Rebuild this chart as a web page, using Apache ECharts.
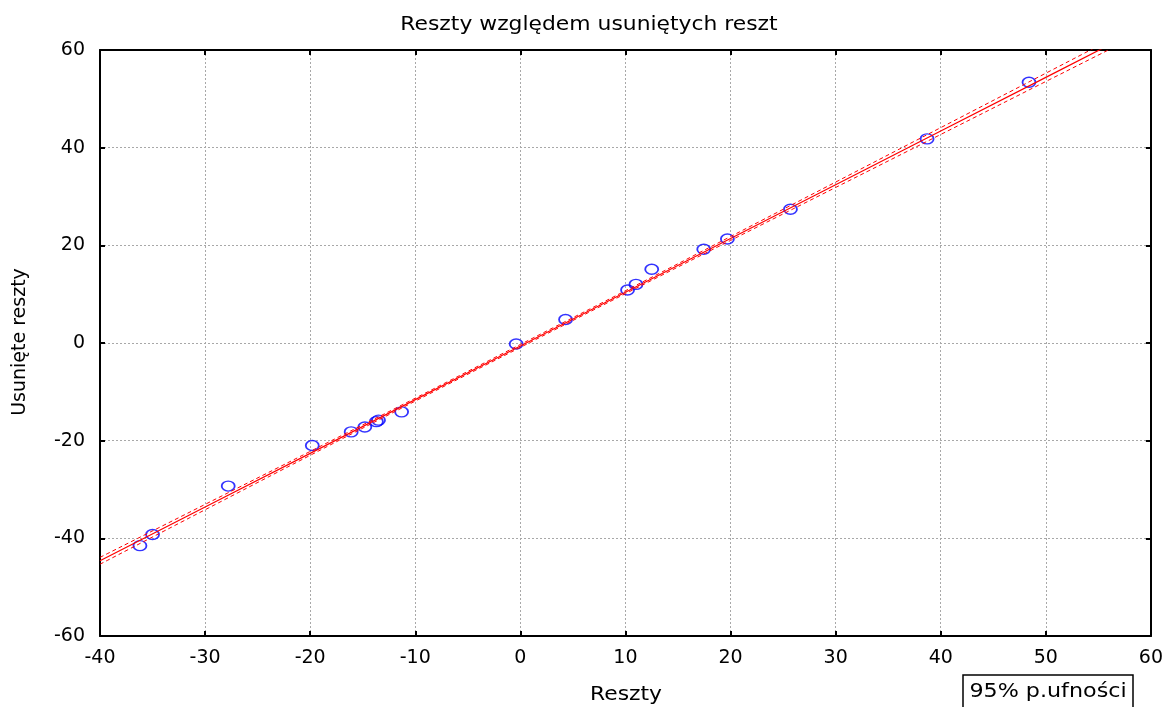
<!DOCTYPE html>
<html>
<head>
<meta charset="utf-8">
<script src="https://cdn.jsdelivr.net/npm/echarts@6/dist/echarts.min.js"></script>
<style>
html,body{margin:0;padding:0;background:#fff;}
#chart{width:1166px;height:707px;}
</style>
</head>
<body>
<div id="chart"></div>
<script>
// Residuals (x) vs deleted residuals (y)
var residuals = [-36.2, -35.0, -27.8, -19.8, -16.1, -14.8, -13.7, -13.5, -11.3, -0.4, 4.3, 10.2, 11.0, 12.5, 17.45, 19.7, 25.7, 38.7, 48.4];
var deletedResiduals = [-41.5, -39.2, -29.3, -21.0, -18.2, -17.2, -16.1, -15.8, -14.1, -0.2, 4.8, 10.85, 12.0, 15.1, 19.2, 21.3, 27.4, 41.8, 53.4];

// Fitted line and 95% confidence band
var bandX = [-40, -30, -20, -10, 0, 10, 20, 30, 40, 50, 56];
var fitY = [-44.6, -33.6, -22.6, -11.6, -0.6, 10.4, 21.4, 32.4, 43.4, 54.4, 61.0];
var upperY = [-43.9, -33.05, -22.2, -11.3, -0.3, 10.7, 21.8, 32.95, 44.1, 55.25, 61.95];
var lowerY = [-45.3, -34.15, -23.0, -11.9, -0.9, 10.1, 21.0, 31.85, 42.7, 53.55, 60.05];

var xTicks = [-40, -30, -20, -10, 0, 10, 20, 30, 40, 50, 60];
var yTicks = [-60, -40, -20, 0, 20, 40, 60];

var titleText = 'Reszty względem usuniętych reszt';
var xName = 'Reszty';
var yName = 'Usunięte reszty';
var legendText = '95% p.ufności';

function pairs(xs, ys) { return xs.map(function (x, i) { return [x, ys[i]]; }); }

var FONT = 'DejaVu Sans';
var chart = echarts.init(document.getElementById('chart'), null, {renderer: 'canvas'});

var baseAxis = {
  axisLine: {show: true, onZero: false, lineStyle: {color: '#000', width: 2}},
  axisTick: {show: true, inside: true, length: 5, lineStyle: {color: '#000', width: 2}},
  splitLine: {show: false}
};
var gridLine = {show: true, lineStyle: {color: '#a8a8a8', width: 1, type: [2, 2]}};

chart.setOption({
  animation: false,
  backgroundColor: '#fff',
  grid: {left: 100, right: 13, top: 50, bottom: 71, containLabel: false},
  xAxis: [
    Object.assign({}, baseAxis, {
      type: 'value', min: xTicks[0], max: xTicks[xTicks.length - 1], interval: 10, position: 'bottom',
      axisLabel: {fontFamily: FONT, fontSize: 19, color: '#000', margin: 13},
      splitLine: gridLine
    }),
    Object.assign({}, baseAxis, {
      type: 'value', min: xTicks[0], max: xTicks[xTicks.length - 1], interval: 10, position: 'top',
      axisLabel: {show: false}
    })
  ],
  yAxis: [
    Object.assign({}, baseAxis, {
      type: 'value', min: yTicks[0], max: yTicks[yTicks.length - 1], interval: 20, position: 'left',
      axisLabel: {fontFamily: FONT, fontSize: 19, color: '#000', margin: 15},
      splitLine: gridLine
    }),
    Object.assign({}, baseAxis, {
      type: 'value', min: yTicks[0], max: yTicks[yTicks.length - 1], interval: 20, position: 'right',
      axisLabel: {show: false}
    })
  ],
  series: [
    {
      type: 'line', data: pairs(bandX, upperY), smooth: true, symbol: 'none', clip: true,
      lineStyle: {color: '#ff0000', width: 1, type: [4, 3]}, silent: true
    },
    {
      type: 'line', data: pairs(bandX, lowerY), smooth: true, symbol: 'none', clip: true,
      lineStyle: {color: '#ff0000', width: 1, type: [4, 3]}, silent: true
    },
    {
      type: 'line', data: pairs(bandX, fitY), symbol: 'none', clip: true,
      lineStyle: {color: '#ff0000', width: 1.2}, silent: true
    },
    {
      type: 'scatter', data: pairs(residuals, deletedResiduals), symbol: 'circle', symbolSize: [13, 10],
      itemStyle: {color: 'rgba(0,0,0,0)', borderColor: '#0000ff', borderWidth: 1.6}, clip: true
    }
  ],
  graphic: [
    {
      type: 'text', x: 589, y: 25, scaleX: 1.15,
      style: {text: titleText, fontFamily: FONT, fontSize: 19, fill: '#000', align: 'center', verticalAlign: 'middle'}
    },
    {
      type: 'text', x: 626, y: 695, scaleX: 1.15,
      style: {text: xName, fontFamily: FONT, fontSize: 19, fill: '#000', align: 'center', verticalAlign: 'middle'}
    },
    {
      type: 'text', x: 20, y: 342, rotation: Math.PI / 2,
      style: {text: yName, fontFamily: FONT, fontSize: 19, fill: '#000', align: 'center', verticalAlign: 'middle'}
    },
    {
      type: 'rect', x: 963, y: 675,
      shape: {width: 170, height: 40},
      style: {fill: '#fff', stroke: '#000', lineWidth: 1.5}
    },
    {
      type: 'text', x: 1048, y: 692, scaleX: 1.17,
      style: {text: legendText, fontFamily: FONT, fontSize: 19, fill: '#000', align: 'center', verticalAlign: 'middle'}
    }
  ]
});
</script>
</body>
</html>
